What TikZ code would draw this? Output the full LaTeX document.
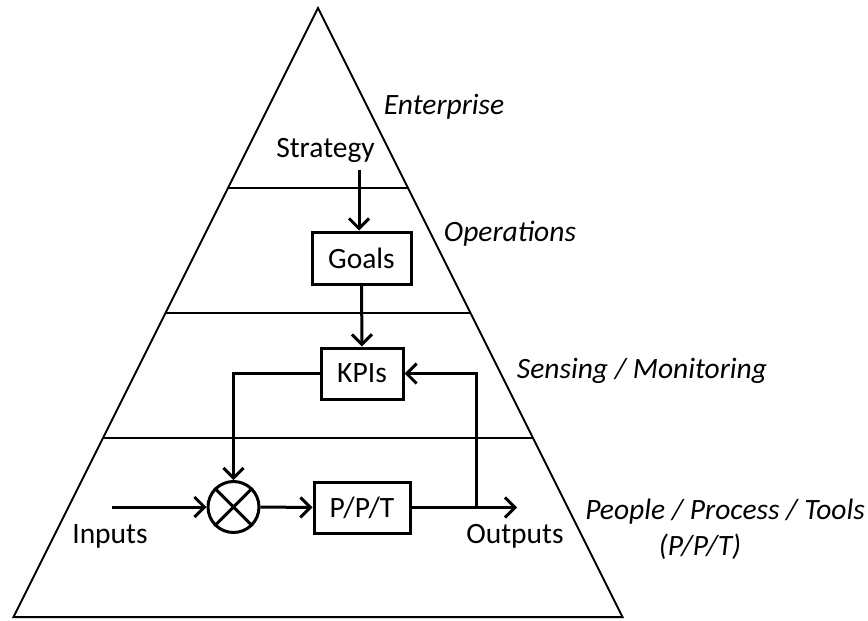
\documentclass[tikz,border=0pt]{standalone}
\usepackage{fontspec}
\setmainfont{Carlito}
\usetikzlibrary{arrows.meta}
\begin{document}
\begin{tikzpicture}[x=1pt,y=-1pt,
  every node/.style={font=\fontsize{29.5}{34}\selectfont},
  tri/.style={line width=2pt},
  box/.style={draw,line width=3pt,inner sep=0pt},
  conn/.style={line width=3pt,-{Straight Barb[length=10pt,width=20pt,line width=3pt]}},
  lbl/.style={font=\fontsize{29.5}{34}\selectfont\itshape}]
\useasboundingbox (0,0) rectangle (868,621);
% pyramid
\coordinate (apex) at (318,8);
\coordinate (bl) at (13.5,617);
\coordinate (br) at (622.5,617);
\draw[tri] (apex) -- (bl) -- (br) -- cycle;
\coordinate (l1) at (228,188); \coordinate (r1) at (408,188);
\coordinate (l2) at (165.5,313); \coordinate (r2) at (470.5,313);
\coordinate (l3) at (103,438); \coordinate (r3) at (533,438);
\draw[tri] (l1) -- (r1) (l2) -- (r2) (l3) -- (r3);
% nodes
\node (strategy) at (325.5,150) {Strategy};
\node[box,minimum width=99pt,minimum height=52pt] (goals) at (361.5,258) {Goals};
\node[box,minimum width=82pt,minimum height=51pt] (kpis) at (362,373.5) {KPIs};
\node[box,minimum width=96pt,minimum height=51pt] (ppt) at (362,507.5) {P/P/T};
\node[draw,circle,line width=3pt,minimum size=51pt,inner sep=0pt] (sum) at (233.5,507) {};
\draw[line width=3pt] (sum.45) -- (sum.225) (sum.135) -- (sum.315);
\node (inputs) at (110,536) {Inputs};
\node (outputs) at (515,536) {Outputs};
\coordinate (in) at (112,507);
\coordinate (out) at (517,507.5);
\coordinate (branch) at (476,507.5);
\coordinate (sfrom) at (359,170);
% connectors
\draw[conn] (sfrom) -- (sfrom |- goals.north);
\draw[conn] (goals.south) -- (kpis.north);
\draw[conn] (kpis.west) -| (sum.north);
\draw[conn] (in) -- (sum.west);
\draw[conn] (sum.east) -- (ppt.west);
\draw[conn] (ppt.east) -- (out);
\draw[conn] (branch) |- (kpis.east);
% labels
\node[lbl] at (444,107) {Enterprise};
\node[lbl] at (510,234) {Operations};
\node[lbl] at (642,371) {Sensing / Monitoring};
\node[lbl] at (725,512) {People / Process / Tools};
\node[lbl] at (700,547) {(P/P/T)};
\end{tikzpicture}
\end{document}
